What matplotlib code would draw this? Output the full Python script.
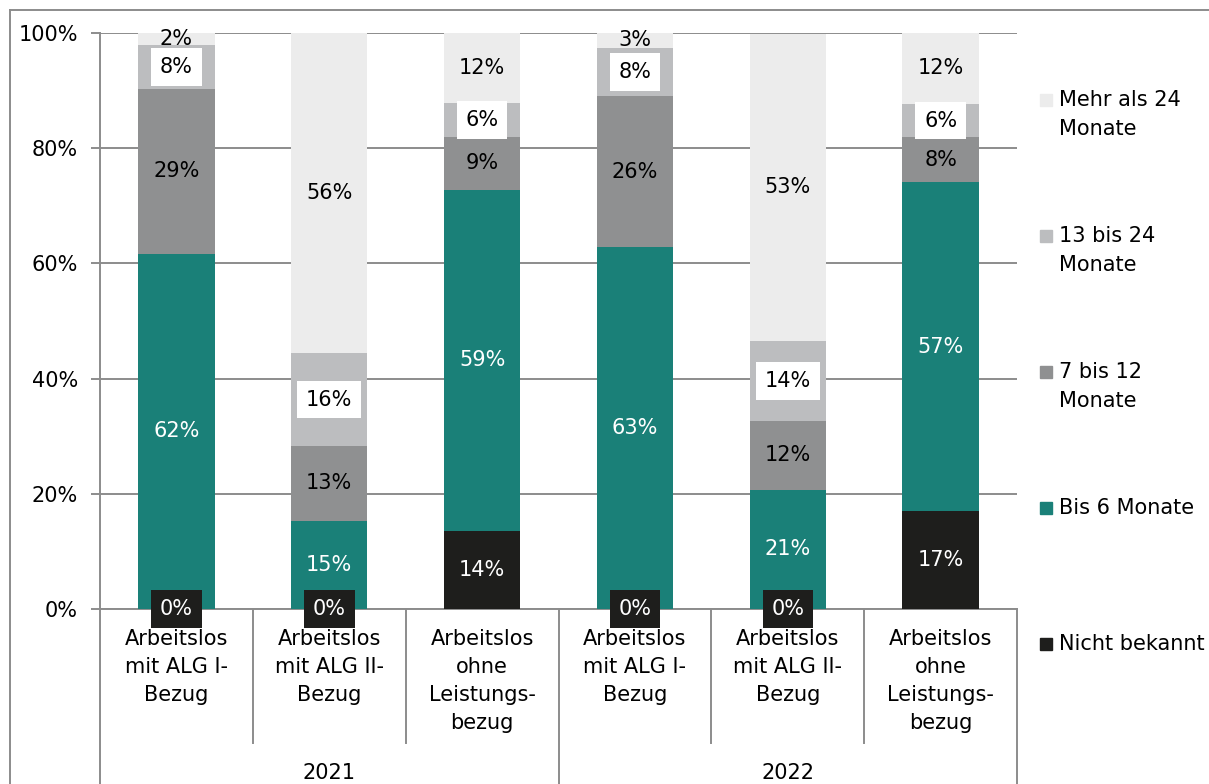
import numpy as np
import matplotlib
matplotlib.use("Agg")
import matplotlib.pyplot as plt
from matplotlib.lines import Line2D
from matplotlib.patches import Rectangle

# data (shares in %, bottom to top)
categories = ["Arbeitslos\nmit ALG I-\nBezug", "Arbeitslos\nmit ALG II-\nBezug", "Arbeitslos\nohne\nLeistungs-\nbezug"] * 2
years = ["2021", "2022"]
series = ["Nicht bekannt", "Bis 6 Monate", "7 bis 12\nMonate", "13 bis 24\nMonate", "Mehr als 24\nMonate"]
nicht_bekannt = [0.0, 0.0, 13.6, 0.0, 0.0, 17.0]
bis_6 = [61.7, 15.3, 59.2, 62.8, 20.7, 57.1]
m7_12 = [28.6, 13.0, 9.1, 26.3, 11.9, 7.8]
m13_24 = [7.6, 16.1, 6.0, 8.3, 13.9, 5.8]
mehr_24 = [2.1, 55.6, 12.2, 2.6, 53.4, 12.3]

colors = ["#1e1e1c", "#1a8078", "#8f9091", "#bcbdbf", "#ececec"]
GRID = "#8c8c8c"
FS = 15

plt.rcParams["font.family"] = "DejaVu Sans"

fig = plt.figure(figsize=(12.09, 7.84), dpi=100)
ax = fig.add_axes([100 / 1209, 1 - 609 / 784, 917 / 1209, 576 / 784])

x = np.arange(len(categories))
data = [nicht_bekannt, bis_6, m7_12, m13_24, mehr_24]
bottom = np.zeros(len(categories))
for k, vals in enumerate(data):
    vals = np.array(vals)
    ax.bar(x, vals, width=0.5, bottom=bottom, color=colors[k], zorder=3)
    for i, v in enumerate(vals):
        lbl = "%d%%" % round(v)
        yc = bottom[i] + v / 2
        if k == 0:
            if v == 0:
                ax.text(i, 0, lbl, ha="center", va="center", color="white", fontsize=FS, zorder=5,
                        bbox=dict(boxstyle="square,pad=0.42", fc=colors[0], ec="none"))
            else:
                ax.text(i, yc, lbl, ha="center", va="center", color="white", fontsize=FS, zorder=5)
        elif k == 1:
            ax.text(i, yc, lbl, ha="center", va="center", color="white", fontsize=FS, zorder=5)
        elif k == 3:
            ax.text(i, yc, lbl, ha="center", va="center", color="black", fontsize=FS, zorder=5,
                    bbox=dict(boxstyle="square,pad=0.42", fc="white", ec="none"))
        else:
            ax.text(i, yc, lbl, ha="center", va="center", color="black", fontsize=FS, zorder=5)
    bottom += vals

ax.set_xlim(-0.5, len(categories) - 0.5)
ax.set_ylim(0, 100)
ax.set_yticks(np.arange(0, 101, 20))
ax.set_yticklabels(["%d%%" % t for t in range(0, 101, 20)], fontsize=FS)
ax.set_xticks([])
ax.yaxis.grid(True, color=GRID, lw=1.4, zorder=0)
ax.tick_params(axis="y", length=6.5, width=1.4, color=GRID, pad=9.5)
for s in ["top", "right"]:
    ax.spines[s].set_visible(False)
for s in ["left", "bottom"]:
    ax.spines[s].set_color(GRID)
    ax.spines[s].set_linewidth(1.4)

# category labels and separators below the axis
tr = ax.get_xaxis_transform()
px = 1 / 576
for i, c in enumerate(categories):
    ax.text(i, -20 * px, c, transform=tr, ha="center", va="top", fontsize=FS, linespacing=1.5)
for b in np.arange(-0.5, len(categories), 1.0):
    low = -0.32 if b in (-0.5, 2.5, 5.5) else -134 * px
    ax.add_line(Line2D([b, b], [0, low], transform=tr, color=GRID, lw=1.4, clip_on=False))
for g, yr in enumerate(years):
    ax.text(1 + 3 * g, -164 * px, yr, transform=tr, ha="center", va="center", fontsize=FS)

# legend, drawn by hand on the right
leg_y = [644, 508, 372, 236, 100]
for k, name in enumerate(series):
    yc = 1 - leg_y[k] / 784
    fig.add_artist(Rectangle((1040 / 1209, yc - 6 / 784), 12 / 1209, 12 / 784, color=colors[k],
                             transform=fig.transFigure))
    for j, line in enumerate(name.split("\n")):
        fig.text(1059 / 1209, yc - j * 29 / 784, line, ha="left", va="center", fontsize=FS)

# outer frame
fig.add_artist(Line2D([10 / 1209, 10 / 1209], [0, 1 - 10 / 784], color=GRID, lw=1.4))
fig.add_artist(Line2D([10 / 1209, 1], [1 - 10 / 784, 1 - 10 / 784], color=GRID, lw=1.4))

fig.savefig("out.png", dpi=100)
